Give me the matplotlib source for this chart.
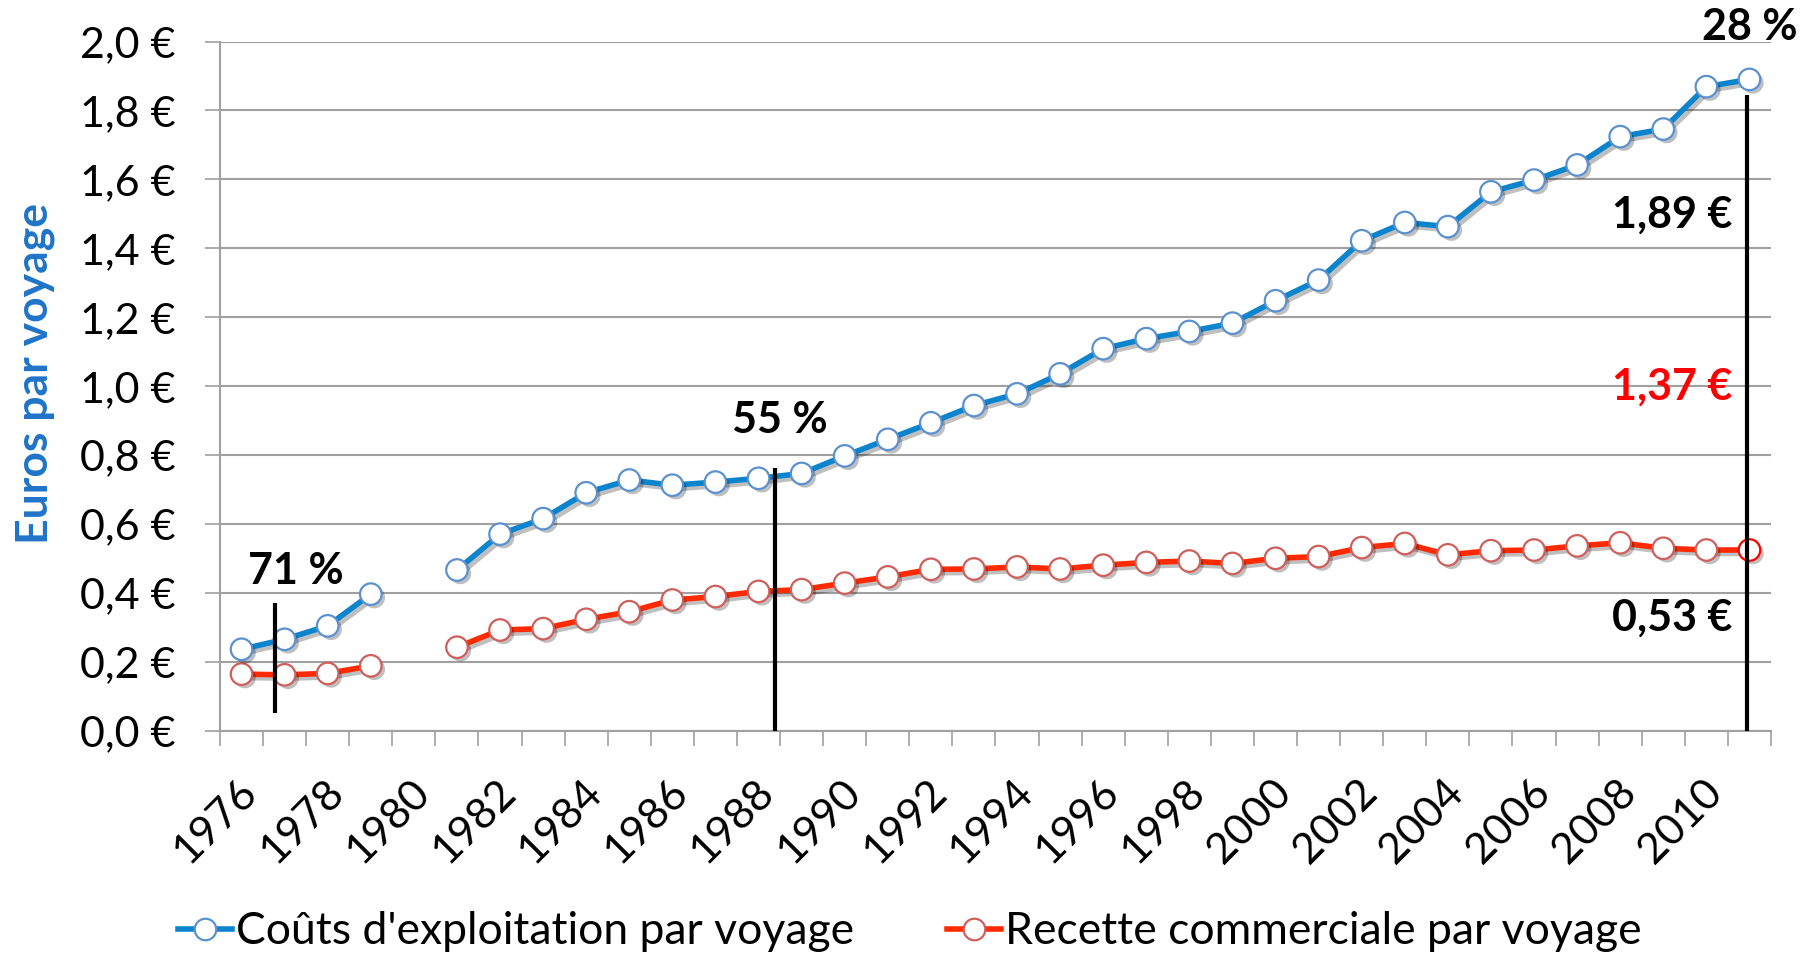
import numpy as np
import matplotlib
matplotlib.use("Agg")
import matplotlib.pyplot as plt
import matplotlib.patheffects as pe
from matplotlib.lines import Line2D
from matplotlib.ticker import FixedLocator, FuncFormatter
import matplotlib.transforms as mtransforms

plt.rcParams['font.family'] = ['Lato', 'DejaVu Sans']

# ---------------- data ----------------
years = list(range(1976, 2012))
couts = [0.237, 0.266, 0.305, 0.397, None, 0.467, 0.571, 0.616, 0.691, 0.728,
         0.713, 0.722, 0.733, 0.747, 0.798, 0.846, 0.894, 0.944, 0.978, 1.036,
         1.109, 1.138, 1.159, 1.183, 1.248, 1.308, 1.422, 1.475, 1.463, 1.564,
         1.598, 1.642, 1.724, 1.746, 1.869, 1.890]
recettes = [0.165, 0.163, 0.167, 0.189, None, 0.243, 0.293, 0.297, 0.324, 0.346,
            0.380, 0.390, 0.405, 0.410, 0.429, 0.447, 0.469, 0.470, 0.476, 0.470,
            0.481, 0.489, 0.493, 0.486, 0.501, 0.506, 0.532, 0.544, 0.511, 0.523,
            0.525, 0.537, 0.546, 0.530, 0.525, 0.525]
series_names = ["Coûts d'exploitation par voyage", "Recette commerciale par voyage"]
y_ticks = [0.0, 0.2, 0.4, 0.6, 0.8, 1.0, 1.2, 1.4, 1.6, 1.8, 2.0]
x_tick_years = list(range(1976, 2011, 2))
y_label = "Euros par voyage"

# ratio markers (year position, top, bottom) and annotations
ratio_lines = [(1976.78, 0.371, 0.052), (1988.38, 0.763, 0.0), (2010.95, 1.845, 0.0)]
ratio_texts = [("71 %", 1977.25, 0.464), ("55 %", 1988.5, 0.902), ("28 %", 2011.0, 2.042)]
value_texts = [("1,89 €", 2010.6, 1.497, 'black'), ("1,37 €", 2010.6, 0.999, '#FF0000'),
               ("0,53 €", 2010.6, 0.328, 'black')]

# ---------------- style ----------------
BLUE = '#0B84CE'
BLUE_EDGE = '#5B91CF'
RED = '#FF2A00'
RED_EDGE = '#CF5F5A'
GRID = '#A0A0A0'

W, H = 1809, 956
fig = plt.figure(figsize=(W / 100, H / 100), dpi=100)
ax = fig.add_axes([220 / W, 1 - 731 / H, (1771 - 220) / W, (731 - 41.5) / H])

x = np.array(years, dtype=float)
yc = np.array([np.nan if v is None else v for v in couts])
yr = np.array([np.nan if v is None else v for v in recettes])

line_shadow = [pe.SimpleLineShadow(offset=(2.5, -2.5), shadow_color='black', alpha=0.25), pe.Normal()]
mark_shadow = [pe.SimplePatchShadow(offset=(2.5, -2.5), shadow_rgbFace='black', alpha=0.25), pe.Normal()]

LW = 4.0
MS = 15.5
MEW = 1.6

ax.plot(x, yr, color=RED, lw=LW, solid_capstyle='round', path_effects=line_shadow, zorder=3)
ax.plot(x[:-1], yr[:-1], ls='none', marker='o', ms=MS, mfc='white', mec=RED_EDGE, mew=MEW,
        path_effects=mark_shadow, zorder=4)
ax.plot(x[-1:], yr[-1:], ls='none', marker='o', ms=MS, mfc='white', mec='#FF0000', mew=MEW,
        path_effects=mark_shadow, zorder=4)
ax.plot(x, yc, color=BLUE, lw=LW, solid_capstyle='round', path_effects=line_shadow, zorder=5)
ax.plot(x, yc, ls='none', marker='o', ms=MS, mfc='white', mec=BLUE_EDGE, mew=MEW,
        path_effects=mark_shadow, zorder=6)

# vertical ratio lines
for xv, top, bot in ratio_lines:
    ax.plot([xv, xv], [bot, top], color='black', lw=3.0, solid_capstyle='butt', zorder=7)

for t, xv, yv in ratio_texts:
    ax.text(xv, yv, t, ha='center', va='center', fontsize=31, fontweight='bold', color='black',
            zorder=8, clip_on=False)
for t, xv, yv, c in value_texts:
    ax.text(xv, yv, t, ha='right', va='center', fontsize=31, fontweight='bold', color=c, zorder=8)

# axes
ax.set_xlim(1975.5, 2011.5)
ax.set_ylim(0, 2.0)
ax.set_yticks(y_ticks)
ax.yaxis.set_major_formatter(FuncFormatter(lambda v, p: f"{v:.1f} €".replace('.', ',')))
ax.yaxis.grid(True, color=GRID, lw=1.5)
ax.set_axisbelow(True)
ax.tick_params(axis='y', length=11, width=1.2, color=GRID, direction='out', pad=21,
               labelsize=31, labelcolor='black')

ax.xaxis.set_major_locator(FixedLocator(x_tick_years))
ax.xaxis.set_minor_locator(FixedLocator(np.arange(1975.5, 2012.0, 1.0)))
ax.tick_params(axis='x', which='major', length=0, pad=30, labelsize=31)
ax.tick_params(axis='x', which='minor', length=11, width=1.2, color=GRID, direction='out')
ax.set_xticklabels([str(y) for y in x_tick_years])
offset = mtransforms.ScaledTranslation(-4 / 100, 0, fig.dpi_scale_trans)
for lab in ax.get_xticklabels():
    lab.set_rotation(45)
    lab.set_rotation_mode('anchor')
    lab.set_ha('right')
    lab.set_va('top')
    lab.set_transform(lab.get_transform() + offset)

for s in ['top', 'right']:
    ax.spines[s].set_visible(False)
for s in ['left', 'bottom']:
    ax.spines[s].set_color(GRID)
    ax.spines[s].set_linewidth(1.5)

fig.text(35 / W, 1 - 374 / H, y_label, rotation=90, ha='center', va='center',
         fontsize=32, fontweight='bold', color='#1F74C8')

# legend
h1 = Line2D([], [], color=BLUE, lw=LW, marker='o', ms=MS, mfc='white', mec=BLUE_EDGE, mew=MEW)
h2 = Line2D([], [], color=RED, lw=LW, marker='o', ms=MS, mfc='white', mec=RED_EDGE, mew=MEW)
fig.legend([h1, h2], series_names, loc='center', bbox_to_anchor=(910 / W, 1 - 932 / H),
           ncol=2, frameon=False, fontsize=32, handlelength=1.2, handletextpad=0.1,
           columnspacing=2.1, borderaxespad=0)

fig.savefig('out.png', dpi=100)
